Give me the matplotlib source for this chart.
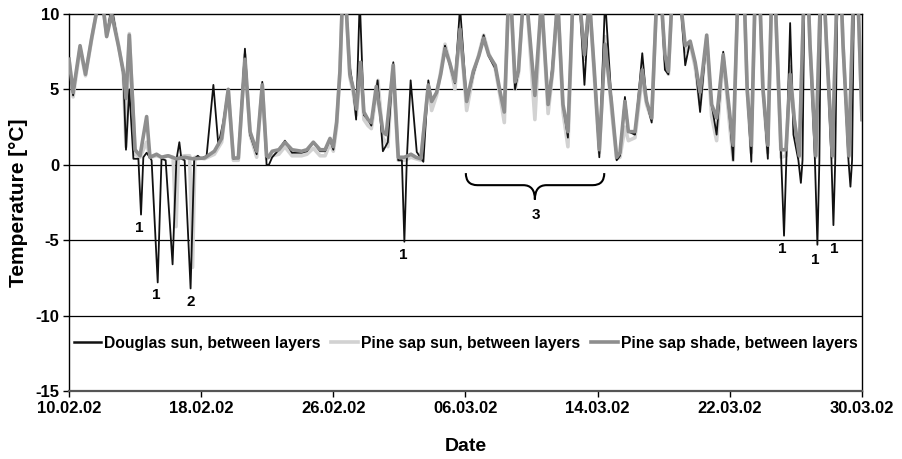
import matplotlib
matplotlib.use("Agg")
import matplotlib.pyplot as plt
from matplotlib.path import Path
from matplotlib.patches import PathPatch

# ---------------- data (days since 10.02.02, temperature in °C) ----------------
douglas_days = [0.0, 0.25, 0.67, 1.0, 1.37, 1.75, 2.05, 2.28, 2.58, 2.99, 3.29, 3.45, 3.65, 3.9,
                4.2, 4.36, 4.5, 4.7, 5.0, 5.37, 5.6, 5.85, 6.27, 6.5, 6.68, 6.8, 7.0, 7.36, 7.58,
                7.8, 8.0, 8.33, 8.74, 9.04, 9.34, 9.64, 9.95, 10.25, 10.65, 10.96, 11.36, 11.7,
                11.96, 12.1, 12.3, 12.7, 13.07, 13.5, 14.08, 14.4, 14.79, 15.2, 15.5, 15.8, 16.0,
                16.2, 16.4, 16.55, 16.75, 17.0, 17.2, 17.38, 17.6, 17.85, 18.1, 18.3, 18.68, 19.0,
                19.3, 19.63, 19.93, 20.15, 20.3, 20.45, 20.68, 21.05, 21.45, 21.75, 21.95, 22.25,
                22.5, 22.76, 23.06, 23.36, 23.67, 24.07, 24.47, 24.8, 25.1, 25.4, 25.8, 26.1,
                26.35, 26.6, 26.75, 27.0, 27.2, 27.5, 27.7, 28.2, 28.6, 29.0, 29.26, 29.58, 29.9,
                30.2, 30.5, 30.9, 31.2, 31.5, 31.8, 32.1, 32.45, 32.85, 33.15, 33.35, 33.65,
                33.86, 34.26, 34.7, 34.96, 35.27, 35.57, 35.85, 36.07, 36.28, 36.5, 37.0, 37.3,
                37.6, 37.9, 38.2, 38.6, 38.9, 39.2, 39.6, 40.0, 40.2, 40.45, 40.6, 40.85, 41.05,
                41.3, 41.5, 41.7, 41.85, 42.0, 42.3, 42.5, 42.65, 42.85, 43.1, 43.28, 43.42,
                43.65, 43.85, 44.15, 44.3, 44.4, 44.5, 44.65, 44.85, 45.15, 45.3, 45.42, 45.5,
                45.6, 45.85, 46.15, 46.27, 46.38, 46.5, 46.65, 46.85, 47.18, 47.3, 47.4, 47.5,
                47.67, 47.85, 48.0]
douglas_temp = [7.0, 4.6, 7.9, 6.0, 8.4, 10.6, 10.6, 8.5, 10.5, 7.9, 6.0, 1.0, 5.0, 0.4,
                0.4, -3.3, 0.5, 0.8, 0.3, -7.8, 0.4, 0.3, -6.6, 0.3, 1.5, 0.4, 0.3, -8.2, 0.4,
                0.6, 0.4, 0.6, 5.3, 1.3, 2.85, 5.0, 0.4, 0.5, 7.7, 2.0, 0.7, 5.5,
                0.0, 0.0, 0.5, 1.0, 1.6, 0.8, 0.8, 0.9, 1.5, 0.9, 0.9, 1.7, 1.0,
                2.8, 6.2, 11.0, 11.0, 6.5, 5.1, 3.0, 11.0, 3.3, 3.0, 2.6, 5.6, 0.9,
                1.5, 6.8, 0.3, 0.3, -5.1, 0.4, 5.6, 0.85, 0.2, 5.6, 4.2, 4.8,
                6.0, 7.9, 6.6, 5.4, 10.5, 4.2, 6.0, 7.2, 8.6, 7.2, 6.4, 4.8,
                3.5, 11.0, 11.0, 5.0, 6.2, 11.0, 11.0, 4.6, 11.0, 4.0, 6.6, 11.0, 4.0,
                1.8, 11.0, 11.0, 5.3, 11.0, 6.0, 0.5, 11.0, 4.0, 0.3, 0.6, 4.5,
                2.2, 2.0, 7.4, 4.2, 2.8, 11.0, 11.0, 6.3, 6.0, 11.0, 11.0, 6.6,
                8.2, 6.8, 3.5, 8.6, 4.0, 2.0, 7.5, 3.0, 0.3, 10.0, 14.0, 12.0, 5.0,
                0.2, 10.0, 14.0, 10.0, 5.0, 0.4, 10.0, 14.0, 8.0, 0.3, -4.7, 0.3,
                9.4, 2.0, 0.3, -1.2, 0.3, 10.0, 14.0, 8.0, 0.3, -5.3, 0.3, 10.0,
                14.0, 8.0, 0.3, -4.0, 0.3, 10.0, 14.0, 8.0, 0.3, -1.45, 0.3, 10.0,
                14.0, 8.0, 3.0]

pine_sun_days = [0.0, 0.25, 0.67, 1.0, 1.37, 1.75, 2.05, 2.28, 2.58, 2.99, 3.29, 3.45, 3.65,
                 4.0, 4.3, 4.7, 4.9, 5.3, 5.6, 6.0, 6.3, 6.48, 6.62, 7.0, 7.3, 7.48, 7.62, 8.2,
                 8.8, 9.24, 9.64, 9.95, 10.25, 10.65, 10.96, 11.36, 11.7, 11.96, 12.3, 12.7,
                 13.07, 13.5, 14.08, 14.4, 14.79, 15.2, 15.5, 15.8, 16.0, 16.2, 16.4, 16.55,
                 16.75, 17.0, 17.2, 17.4, 17.65, 17.85, 18.1, 18.3, 18.7, 19.0, 19.3, 19.6,
                 19.93, 20.3, 20.7, 21.0, 21.3, 21.75, 21.95, 22.25, 22.5, 22.76, 23.06, 23.36,
                 23.67, 24.07, 24.47, 24.8, 25.1, 25.4, 25.8, 26.1, 26.35, 26.6, 26.75, 27.0,
                 27.2, 27.5, 27.7, 28.2, 28.6, 29.0, 29.26, 29.58, 29.9, 30.2, 30.5, 30.9,
                 31.2, 31.5, 31.8, 32.1, 32.45, 32.85, 33.15, 33.35, 33.65, 33.86, 34.26,
                 34.56, 34.7, 34.96, 35.27, 35.57, 35.85, 36.07, 36.28, 36.5, 37.0, 37.3, 37.6,
                 37.9, 38.2, 38.6, 38.9, 39.2, 39.6, 40.0, 40.2, 40.45, 40.6, 40.85, 41.05,
                 41.3, 41.5, 41.7, 41.85, 42.0, 42.3, 42.5, 42.65, 42.85, 43.1, 43.4, 43.65,
                 43.9, 44.2, 44.45, 44.65, 44.85, 45.2, 45.45, 45.6, 45.85, 46.2, 46.45, 46.65,
                 46.85, 47.2, 47.45, 47.67, 47.85, 48.0]
pine_sun_temp = [7.0, 4.5, 7.7, 5.9, 8.3, 10.6, 10.6, 8.6, 10.3, 8.0, 6.0, 1.2, 8.7,
                 0.7, 0.5, 1.5, 0.5, 0.6, 0.5, 0.6, 0.5, -4.1, 0.5, 0.6, 0.6, -6.8, 0.5, 0.4,
                 0.7, 1.5, 5.0, 0.3, 0.3, 7.3, 2.0, 0.5, 5.3, 0.4, 0.6, 0.7,
                 1.2, 0.6, 0.6, 0.7, 1.1, 0.6, 0.6, 1.4, 0.9, 2.5, 6.2, 11.0,
                 11.0, 5.8, 4.8, 3.3, 6.7, 3.0, 2.6, 2.4, 5.6, 1.8, 1.2, 6.6,
                 0.3, 0.3, 0.5, 0.4, 0.3, 5.2, 3.6, 4.6, 6.2, 8.0, 6.7, 5.0,
                 9.0, 3.6, 6.0, 7.3, 8.6, 7.4, 6.4, 4.5, 2.8, 11.0, 11.0, 5.0,
                 6.0, 11.0, 11.0, 3.0, 11.0, 3.4, 6.0, 11.0, 3.5, 1.2, 11.0, 11.0,
                 7.0, 11.0, 5.8, 0.8, 8.5, 3.5, 0.4, 0.5, 2.5, 1.6, 1.8,
                 4.6, 5.8, 4.0, 3.0, 11.0, 11.0, 7.0, 6.0, 11.0, 11.0, 7.5, 8.0,
                 6.5, 4.0, 8.4, 3.2, 1.6, 7.2, 2.5, 0.3, 10.0, 14.0, 12.0, 5.0,
                 0.8, 10.0, 14.0, 10.0, 5.0, 0.8, 10.0, 14.0, 8.0, 0.5, 0.6, 6.5,
                 3.0, 0.5, 10.0, 14.0, 8.0, 0.5, 10.0, 14.0, 8.0, 0.5, 10.0, 14.0,
                 8.0, 0.5, 10.0, 14.0, 8.0, 3.0]

pine_shade_days = [0.0, 0.25, 0.67, 1.0, 1.37, 1.75, 2.05, 2.28, 2.58, 2.99, 3.29, 3.45, 3.65,
                   4.0, 4.3, 4.7, 4.9, 5.3, 5.6, 6.0, 6.5, 7.0, 7.5, 8.2, 8.8, 9.24, 9.64, 9.95,
                   10.25, 10.65, 10.96, 11.36, 11.7, 11.96, 12.07, 12.3, 12.7, 13.07, 13.5,
                   14.08, 14.4, 14.79, 15.2, 15.5, 15.8, 16.0, 16.2, 16.4, 16.55, 16.75, 17.0,
                   17.2, 17.4, 17.65, 17.85, 18.1, 18.3, 18.6, 19.0, 19.2, 19.63, 19.93, 20.3,
                   20.7, 21.0, 21.3, 21.75, 21.95, 22.25, 22.5, 22.76, 23.06, 23.36, 23.67,
                   24.07, 24.47, 24.8, 25.1, 25.4, 25.8, 26.1, 26.35, 26.6, 26.75, 27.0, 27.2,
                   27.5, 27.7, 28.2, 28.6, 29.0, 29.26, 29.58, 29.9, 30.2, 30.5, 30.9, 31.2,
                   31.5, 31.8, 32.1, 32.45, 32.85, 33.15, 33.35, 33.65, 33.86, 34.26, 34.56,
                   34.7, 34.96, 35.27, 35.57, 35.85, 36.07, 36.28, 36.5, 37.0, 37.3, 37.6, 37.9,
                   38.2, 38.6, 38.9, 39.2, 39.6, 40.0, 40.2, 40.45, 40.6, 40.85, 41.05, 41.3,
                   41.5, 41.7, 41.85, 42.0, 42.3, 42.5, 42.65, 42.85, 43.1, 43.4, 43.65, 43.9,
                   44.2, 44.45, 44.65, 44.85, 45.2, 45.45, 45.6, 45.85, 46.2, 46.45, 46.65,
                   46.85, 47.2, 47.45, 47.67, 47.85, 48.0]
pine_shade_temp = [7.0, 4.8, 7.9, 6.0, 8.4, 10.6, 10.6, 8.5, 10.0, 7.9, 6.2, 4.4, 8.6,
                   1.0, 0.6, 3.2, 0.5, 0.7, 0.5, 0.6, 0.4, 0.5, 0.4, 0.45, 0.9, 1.75, 5.0, 0.45,
                   0.45, 7.0, 2.2, 0.9, 5.3, 0.6, 0.5, 0.9, 1.0, 1.5, 1.0,
                   0.9, 1.0, 1.5, 1.0, 1.0, 1.75, 1.2, 2.85, 6.2, 11.0, 11.0, 6.0,
                   5.1, 3.7, 6.8, 3.5, 3.0, 2.8, 5.2, 2.2, 2.0, 6.6, 0.5, 0.5,
                   0.7, 0.5, 0.4, 5.3, 4.2, 4.8, 6.0, 7.7, 6.7, 5.5, 9.0,
                   4.2, 6.2, 7.2, 8.4, 7.3, 6.6, 4.8, 3.5, 11.0, 11.0, 5.5, 6.2,
                   11.0, 11.0, 4.6, 11.0, 4.0, 6.2, 11.0, 4.0, 2.2, 11.0, 11.0, 7.3,
                   11.0, 6.2, 1.0, 8.0, 4.0, 0.5, 0.8, 4.2, 2.2, 2.2, 5.1,
                   6.3, 4.2, 3.1, 11.0, 11.0, 7.3, 6.2, 11.0, 11.0, 7.9, 8.2, 6.8,
                   4.8, 8.6, 4.0, 3.1, 7.3, 3.3, 1.3, 10.0, 14.0, 12.0, 5.0, 1.3,
                   10.0, 14.0, 10.0, 5.1, 1.3, 10.0, 14.0, 8.0, 1.0, 1.0, 6.0, 3.0,
                   0.6, 10.0, 14.0, 8.0, 0.6, 10.0, 14.0, 8.0, 0.6, 10.0, 14.0,
                   8.0, 0.6, 10.0, 14.0, 8.0, 3.0]

series_names = ["Douglas sun, between layers", "Pine sap sun, between layers",
                "Pine sap shade, between layers"]
x_tick_days = [0, 8, 16, 24, 32, 40, 48]
x_tick_labels = ["10.02.02", "18.02.02", "26.02.02", "06.03.02", "14.03.02", "22.03.02", "30.03.02"]
y_ticks = [-15, -10, -5, 0, 5, 10]

# annotation labels: (text, day, temperature)
notes = [("1", 4.25, -4.2), ("1", 5.3, -8.65), ("2", 7.38, -9.1), ("1", 20.25, -6.0),
         ("3", 28.25, -3.3), ("1", 43.18, -5.55), ("1", 45.2, -6.3), ("1", 46.3, -5.55)]

# ---------------- drawing ----------------
plt.rcParams['font.family'] = ['Liberation Sans', 'DejaVu Sans']
plt.rcParams['font.weight'] = 'bold'

fig = plt.figure(figsize=(9.03, 4.59), dpi=100)
ax = fig.add_axes([0.0764, 0.1481, 0.8782, 0.8214])

for y in [-10, -5, 0, 5]:
    ax.axhline(y, color='black', lw=0.9, zorder=1)

ax.plot(douglas_days, douglas_temp, color='#111111', lw=1.3, zorder=3, label=series_names[0])
ax.plot(pine_sun_days, pine_sun_temp, color='#d2d2d2', lw=2.6, zorder=2.5, label=series_names[1])
ax.plot(pine_shade_days, pine_shade_temp, color='#8e8e8e', lw=2.6, zorder=4, label=series_names[2])

ax.set_xlim(0, 48)
ax.set_ylim(-15, 10)
ax.set_xticks(x_tick_days)
ax.set_xticklabels(x_tick_labels)
ax.set_yticks(y_ticks)
ax.set_yticklabels([str(v) for v in y_ticks])
ax.tick_params(axis='both', direction='out', length=4, width=1, labelsize=12, pad=3)
for lab in ax.get_xticklabels() + ax.get_yticklabels():
    lab.set_fontweight('bold')
for s in ax.spines.values():
    s.set_linewidth(1.0)
    s.set_color('black')
ax.spines['bottom'].set_color('#555555')
ax.spines['bottom'].set_linewidth(1.6)

ax.set_xlabel("Date", fontsize=14, fontweight='bold', labelpad=16)
ax.set_ylabel("Temperature [°C]", fontsize=15, fontweight='bold', labelpad=5)

for txt, d, t in notes:
    ax.text(d, t, txt, ha='center', va='center', fontsize=11, fontweight='bold', zorder=5)

# curly bracket for label 3
x0, x1, xm = 24.02, 32.4, 28.2
ytop, ymid, ytip = -0.55, -1.35, -2.3
r = 0.7
verts = [(x0, ytop), (x0, ymid), (x0 + r, ymid), (xm - r, ymid), (xm, ymid), (xm, ytip),
         (xm, ymid), (xm + r, ymid), (x1 - r, ymid), (x1, ymid), (x1, ytop)]
codes = [Path.MOVETO, Path.CURVE3, Path.CURVE3, Path.LINETO, Path.CURVE3, Path.CURVE3,
         Path.CURVE3, Path.CURVE3, Path.LINETO, Path.CURVE3, Path.CURVE3]
ax.add_patch(PathPatch(Path(verts, codes), fill=False, lw=1.5, color='black', zorder=5))

leg = ax.legend(loc='center', bbox_to_anchor=(0.5006, 0.127), ncol=3, frameon=False,
                prop={'weight': 'bold', 'size': 11.3}, handlelength=1.7, handletextpad=0.2,
                columnspacing=0.7, borderaxespad=0)
for h in leg.get_lines():
    h.set_linewidth(2.6)
leg.get_lines()[0].set_linewidth(1.8)

fig.savefig("out.png", dpi=100)
